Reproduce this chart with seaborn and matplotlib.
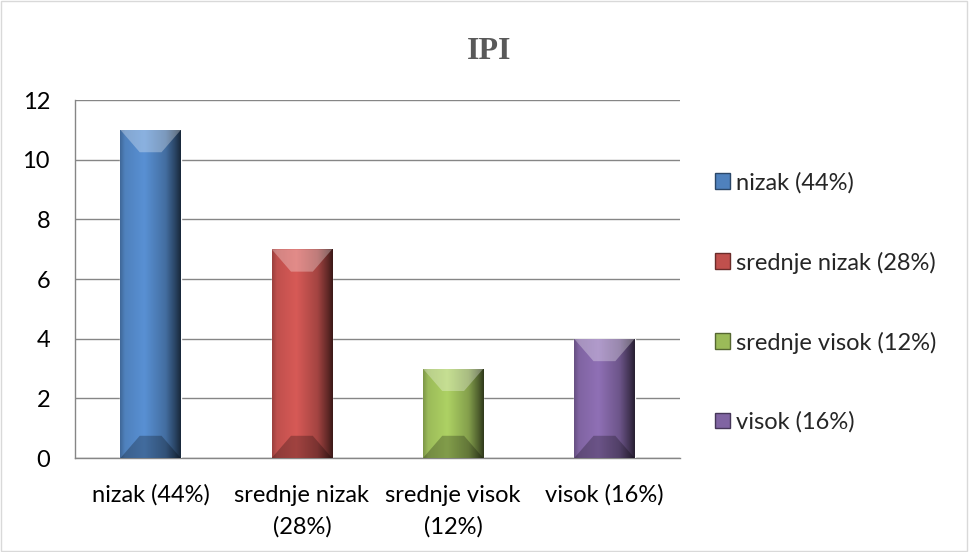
import numpy as np
import pandas as pd
import matplotlib.pyplot as plt
import matplotlib.colors as mcolors
from matplotlib.patches import Rectangle, Polygon
import seaborn as sns

# data
categories = ["nizak (44%)", "srednje nizak (28%)", "srednje visok (12%)", "visok (16%)"]
tick_labels = ["nizak (44%)", "srednje nizak\n(28%)", "srednje visok\n(12%)", "visok (16%)"]
counts = [11, 7, 3, 4]
colors = ["#4F81BD", "#C0504D", "#9BBB59", "#8064A2"]

df = pd.DataFrame({"cat": categories, "n": counts})

sns.set_style("white")
plt.rcParams["font.family"] = ["Lato", "DejaVu Sans"]

fig = plt.figure(figsize=(9.69, 5.52), dpi=100)
ax = fig.add_axes([0.0774, 0.170, 0.6244, 0.6488])

sns.barplot(data=df, x="cat", y="n", hue="cat", palette=colors, width=0.4,
            legend=False, ax=ax, zorder=3)

ax.set_ylim(0, 12)
ax.set_yticks(range(0, 13, 2))
ax.set_xlim(-0.5, len(categories) - 0.5)
ax.yaxis.grid(True, color="#868686", linewidth=1, zorder=0)
ax.set_axisbelow(True)
for s in ["right", "top"]:
    ax.spines[s].set_visible(False)
for s in ["left", "bottom"]:
    ax.spines[s].set_color("#868686")
    ax.spines[s].set_linewidth(1)
ax.tick_params(axis="both", length=0, labelsize=17, colors="black")
ax.tick_params(axis="y", pad=18)
ax.tick_params(axis="x", pad=19)
ax.set_xticks(range(len(categories)))
ax.set_xticklabels(tick_labels, linespacing=1.6)
ax.set_xlabel("")
ax.set_ylabel("")

# fake the Excel bevel look: horizontal shading plus top/bottom facets
t = np.linspace(0, 1, 256)
shade = np.interp(t, [0, 0.08, 0.4, 0.75, 0.92, 1], [0.8, 1.0, 1.12, 0.85, 0.5, 0.3])
d = 0.75
for patch, c in zip(ax.patches, colors):
    x0, y0 = patch.get_x(), patch.get_y()
    w, h = patch.get_width(), patch.get_height()
    rgb = np.array(mcolors.to_rgb(c))
    grad = np.clip(rgb[None, :] * shade[:, None], 0, 1)
    grad = np.concatenate([grad, np.ones((256, 1))], axis=1)[None, :, :]
    im = ax.imshow(grad, extent=[x0, x0 + w, y0, y0 + h], aspect="auto",
                   zorder=4, interpolation="bicubic")
    im.set_clip_path(patch)
    top = y0 + h
    ax.add_patch(Polygon([(x0, top), (x0 + w, top), (x0 + 0.68 * w, top - d), (x0 + 0.32 * w, top - d)],
                         closed=True, facecolor="white", alpha=0.3, edgecolor="none", zorder=5))
    ax.add_patch(Polygon([(x0, y0), (x0 + w, y0), (x0 + 0.68 * w, y0 + d), (x0 + 0.32 * w, y0 + d)],
                         closed=True, facecolor="black", alpha=0.25, edgecolor="none", zorder=5))
ax.set_xlim(-0.5, len(categories) - 0.5)
ax.set_ylim(0, 12)

handles = [Rectangle((0, 0), 1, 1, facecolor=c, edgecolor=mcolors.to_hex(np.array(mcolors.to_rgb(c)) * 0.55))
           for c in colors]
fig.legend(handles, categories, loc="center left", bbox_to_anchor=(0.738, 0.452),
           frameon=False, fontsize=17, handlelength=0.65, handleheight=0.65,
           handletextpad=0.25, labelspacing=2.45, borderpad=0, borderaxespad=0)

fig.text(0.505, 0.906, "IPI", ha="center", va="center", fontsize=23,
         fontweight="bold", color="#595959", family=["Liberation Serif", "DejaVu Serif"])

fig.add_artist(Rectangle((0.001, 0.002), 0.997, 0.996, transform=fig.transFigure,
                         fill=False, edgecolor="#D9D9D9", linewidth=1))

fig.savefig("out.png", dpi=100)
